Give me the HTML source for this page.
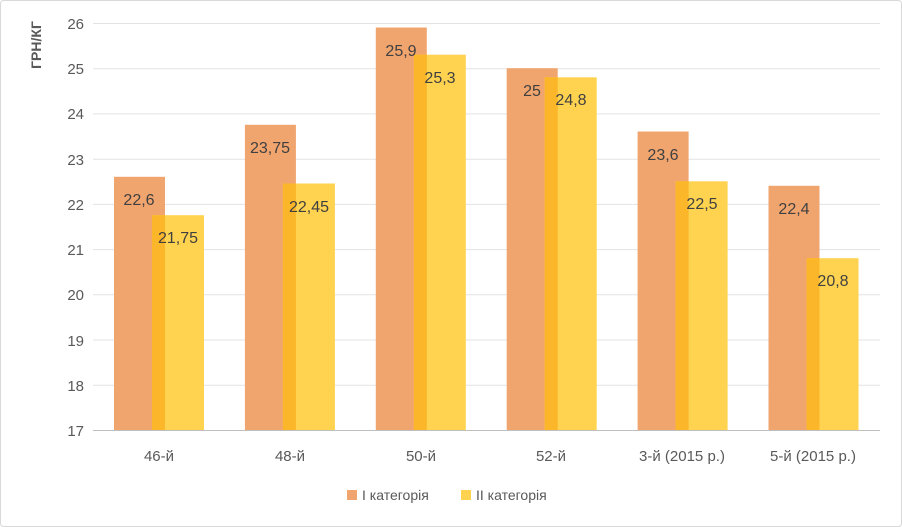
<!DOCTYPE html><html><head><meta charset="utf-8"><style>body{margin:0;background:#fff}svg{display:block}text{font-family:"Liberation Sans",sans-serif}</style></head><body>
<svg width="902" height="527" xmlns="http://www.w3.org/2000/svg">
<rect x="0.5" y="0.5" width="901" height="526" rx="3" fill="#fff" stroke="#d9d9d9"/>
<g stroke="#e3e3e3" stroke-width="1">
<line x1="93" x2="880" y1="23.5" y2="23.5"/><line x1="93" x2="880" y1="68.7" y2="68.7"/><line x1="93" x2="880" y1="113.9" y2="113.9"/><line x1="93" x2="880" y1="159.2" y2="159.2"/><line x1="93" x2="880" y1="204.4" y2="204.4"/><line x1="93" x2="880" y1="249.6" y2="249.6"/><line x1="93" x2="880" y1="294.8" y2="294.8"/><line x1="93" x2="880" y1="340" y2="340"/><line x1="93" x2="880" y1="385.3" y2="385.3"/>
</g>
<g font-size="15" fill="#595959" text-anchor="end">
<text x="84" y="29">26</text><text x="84" y="74">25</text><text x="84" y="119">24</text><text x="84" y="165">23</text><text x="84" y="210">22</text><text x="84" y="255">21</text><text x="84" y="300">20</text><text x="84" y="346">19</text><text x="84" y="391">18</text><text x="84" y="436">17</text>
</g>
<text transform="translate(41,45) rotate(-90)" font-size="14" font-weight="bold" fill="#595959" text-anchor="middle">ГРН/КГ</text>
<g fill="#F0A46E">
<rect x="114" y="176.8" width="51" height="253.2"/>
<rect x="244.9" y="124.8" width="51" height="305.2"/>
<rect x="375.8" y="27.5" width="51" height="402.5"/>
<rect x="506.7" y="68.2" width="51" height="361.8"/>
<rect x="637.6" y="131.5" width="51" height="298.5"/>
<rect x="768.5" y="185.8" width="51" height="244.2"/>
</g>
<g fill="#FFD34F">
<rect x="152" y="215.2" width="52" height="214.8"/>
<rect x="282.9" y="183.5" width="52" height="246.5"/>
<rect x="413.8" y="54.7" width="52" height="375.3"/>
<rect x="544.7" y="77.3" width="52" height="352.7"/>
<rect x="675.6" y="181.3" width="52" height="248.7"/>
<rect x="806.5" y="258.2" width="52" height="171.8"/>
</g>
<g fill="#FBB62A">
<rect x="152" y="215.2" width="13" height="214.8"/>
<rect x="282.9" y="183.5" width="13" height="246.5"/>
<rect x="413.8" y="54.7" width="13" height="375.3"/>
<rect x="544.7" y="77.3" width="13" height="352.7"/>
<rect x="675.6" y="181.3" width="13" height="248.7"/>
<rect x="806.5" y="258.2" width="13" height="171.8"/>
</g>
<g font-size="16" fill="#404040" text-anchor="middle">
<text x="139" y="205">22,6</text><text x="178" y="243">21,75</text>
<text x="270" y="153">23,75</text><text x="309" y="212">22,45</text>
<text x="401" y="56">25,9</text><text x="440" y="83">25,3</text>
<text x="532" y="96">25</text><text x="571" y="105">24,8</text>
<text x="663" y="160">23,6</text><text x="702" y="209">22,5</text>
<text x="794" y="214">22,4</text><text x="833" y="286">20,8</text>
</g>
<g font-size="15" fill="#595959" text-anchor="middle">
<text x="159" y="461">46-й</text><text x="290" y="461">48-й</text><text x="421" y="461">50-й</text><text x="551" y="461">52-й</text><text x="682" y="461">3-й (2015 р.)</text><text x="813" y="461">5-й (2015 р.)</text>
</g>
<line x1="93" x2="880" y1="430.5" y2="430.5" stroke="#bfbfbf"/>
<rect x="347" y="490" width="10" height="10" fill="#F0A46E"/>
<text x="362" y="500" font-size="14" fill="#595959">І категорія</text>
<rect x="461" y="490" width="10" height="10" fill="#FFD34F"/>
<text x="476" y="500" font-size="14" fill="#595959">ІІ категорія</text>
</svg></body></html>
